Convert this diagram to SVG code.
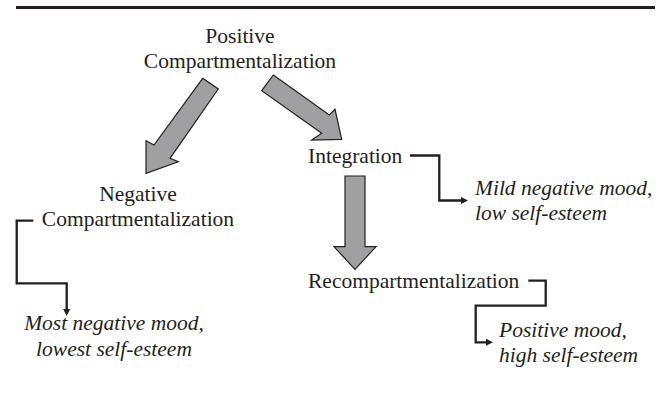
<svg xmlns="http://www.w3.org/2000/svg" width="665" height="398" viewBox="0 0 665 398">
<defs>
<style>
.t{font-family:"Liberation Serif","Times New Roman",serif;font-size:21.5px;fill:#231f20}
.i{font-style:italic}
.big{fill:#a0a0a2;stroke:#231f20;stroke-width:1.2;stroke-linejoin:miter}
.con{fill:none;stroke:#231f20;stroke-width:2.3}
</style>
<marker id="ah" markerUnits="userSpaceOnUse" markerWidth="10" markerHeight="10" viewBox="-1 -5 10 10" refX="1" refY="0" orient="auto">
<path d="M0,-3.5 L7,0 L0,3.5 z" fill="#231f20"/>
</marker>
</defs>
<rect width="665" height="398" fill="#ffffff"/>
<line x1="16" y1="7.5" x2="655" y2="7.5" stroke="#231f20" stroke-width="2.8"/>
<g id="connectors">
<polygon class="big" points="202.7,78.3 218.3,89 170,158.3 178.3,161.7 146,173.3 146,140.7 154,145"/>
<polygon class="big" points="273.3,75 329.3,115 335,109.3 341.7,139.3 311.7,140 321.7,133.3 261.7,90.7"/>
<polygon class="big" points="345,176 365,176 365,246.7 376,246.7 355,269.3 334,246.7 345,246.7"/>
<path class="con" d="M33.3,220.7 H16.7 V283.3 H66.7 V310" marker-end="url(#ah)"/>
<path class="con" d="M410,155.5 H439.3 V200.5 H462" marker-end="url(#ah)"/>
<path class="con" d="M528.3,280.7 H545.7 V305.7 H475.7 V342.3 H487" marker-end="url(#ah)"/>
</g>
<g id="positive">
<text class="t" x="240" y="43.3" text-anchor="middle">Positive</text>
<text class="t" x="240" y="68.3" text-anchor="middle">Compartmentalization</text>
</g>
<g id="negative">
<text class="t" x="138" y="200.7" text-anchor="middle">Negative</text>
<text class="t" x="138" y="225.7" text-anchor="middle">Compartmentalization</text>
</g>
<g id="integration">
<text class="t" x="308" y="163.3">Integration</text>
</g>
<g id="recompartmentalization">
<text class="t" x="308" y="288.3">Recompartmentalization</text>
</g>
<g id="outcome-negative">
<text class="t i" x="114" y="330" text-anchor="middle">Most negative mood,</text>
<text class="t i" x="114" y="355.7" text-anchor="middle">lowest self-esteem</text>
</g>
<g id="outcome-integration">
<text class="t i" x="475" y="195">Mild negative mood,</text>
<text class="t i" x="475" y="220">low self-esteem</text>
</g>
<g id="outcome-recomp">
<text class="t i" x="499" y="336.7">Positive mood,</text>
<text class="t i" x="499" y="361.7">high self-esteem</text>
</g>
</svg>
